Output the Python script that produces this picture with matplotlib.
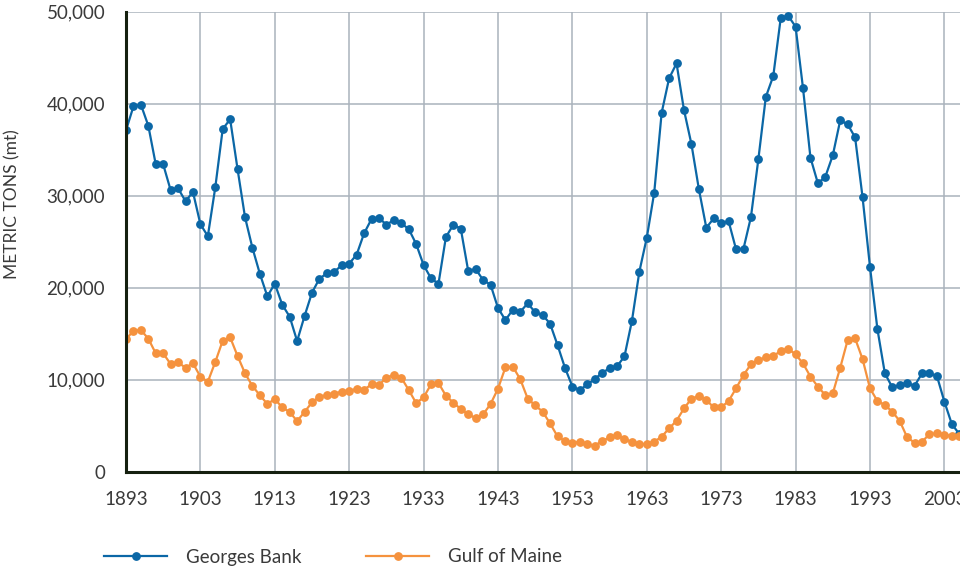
import numpy as np
import matplotlib
matplotlib.use("Agg")
import matplotlib.pyplot as plt
from matplotlib.ticker import StrMethodFormatter

plt.rcParams['font.family'] = ['Lato', 'DejaVu Sans']

# years 1893 - 2005
years = np.arange(1893, 2006)

# landings, metric tons
georges = [
    37100, 39700, 39900, 37600, 33400, 33400, 30600, 30800, 29400, 30400,
    26900, 25600, 30900, 37250, 38300, 32860, 27650, 24310, 21490, 19060,
    20440, 18150, 16850, 14200, 16920, 19460, 20980, 21560, 21720, 22450,
    22620, 23590, 25900, 27460, 27570, 26850, 27350, 26990, 26380, 24750,
    22460, 21010, 20430, 25500, 26850, 26410, 21810, 22030, 20830, 20330,
    17790, 16480, 17610, 17390, 18300, 17320, 17030, 16090, 13770, 11300,
    9260, 8860, 9490, 10040, 10760, 11230, 11450, 12540, 16380, 21740,
    25430, 30330, 39020, 42750, 44380, 39310, 35610, 30720, 26520, 27530,
    27060, 27210, 24170, 24240, 27680, 33980, 40730, 43000, 49270, 49560,
    48370, 41670, 34130, 31340, 32060, 34380, 38190, 37750, 36340, 29850,
    22280, 15500, 10690, 9170, 9420, 9600, 9350, 10690, 10690, 10400,
    7610, 5180, 4100]

maine = [
    14380, 15330, 15400, 14460, 12860, 12860, 11700, 11880, 11300, 11780,
    10330, 9780, 11920, 14240, 14600, 12570, 10690, 9310, 8300, 7360,
    7900, 6990, 6490, 5500, 6490, 7540, 8150, 8330, 8480, 8710,
    8750, 9020, 8910, 9490, 9420, 10220, 10510, 10220, 8880, 7460,
    8080, 9490, 9640, 8260, 7500, 6810, 6230, 5830, 6230, 7350,
    9020, 11340, 11410, 10040, 7930, 7210, 6520, 5250, 3840, 3340,
    3140, 3240, 2970, 2830, 3330, 3730, 3990, 3510, 3260, 3010,
    3010, 3260, 3800, 4710, 5540, 6880, 7930, 8220, 7790, 6990,
    6990, 7680, 9060, 10510, 11670, 12140, 12430, 12570, 13120, 13370,
    12750, 11770, 10330, 9240, 8330, 8510, 11300, 14310, 14490, 12250,
    9060, 7680, 7250, 6520, 5510, 3730, 3150, 3260, 4090, 4170,
    3990, 3910, 3910]

xticks = list(range(1893, 2006, 10))
yticks = [0, 10000, 20000, 30000, 40000, 50000]

blue = '#0b67a6'
orange = '#f5923e'
txt = '#3a3a3a'
gridc = '#aab3bc'

fig = plt.figure(figsize=(9.6, 5.69), dpi=100)
ax = fig.add_axes([0.13125, 0.171, 0.86875, 0.8085])

ax.plot(years, georges, color=blue, lw=1.6, marker='o', ms=5.3,
        label='Georges Bank', zorder=3)
ax.plot(years, maine, color=orange, lw=1.6, marker='o', ms=5.3,
        label='Gulf of Maine', zorder=3)

ax.set_xlim(1893, 2005.1)
ax.set_ylim(0, 50000)
ax.set_xticks(xticks)
ax.set_yticks(yticks)
ax.yaxis.set_major_formatter(StrMethodFormatter('{x:,.0f}'))

ax.grid(True, color=gridc, lw=1.1)
ax.set_axisbelow(True)
for s in ['top', 'right']:
    ax.spines[s].set_visible(False)
for s in ['left', 'bottom']:
    ax.spines[s].set_color('#15200f')
    ax.spines[s].set_linewidth(2.2)
    ax.spines[s].set_zorder(4)

ax.tick_params(axis='both', length=0, labelsize=13.5, colors=txt)
ax.tick_params(axis='y', pad=15)
ax.tick_params(axis='x', pad=14)

ax.set_ylabel('METRIC TONS (mt)', fontsize=12.5, color=txt, va='center')
ax.yaxis.set_label_coords(-0.136, 0.582)

fig.legend(loc='center left', bbox_to_anchor=(104 / 960, 1 - 557 / 569),
           ncol=2, frameon=False, fontsize=13.5, labelcolor=txt,
           handlelength=3.36, handletextpad=1.0, columnspacing=3.47,
           borderpad=0, borderaxespad=0)

plt.savefig('out.png', dpi=100)
